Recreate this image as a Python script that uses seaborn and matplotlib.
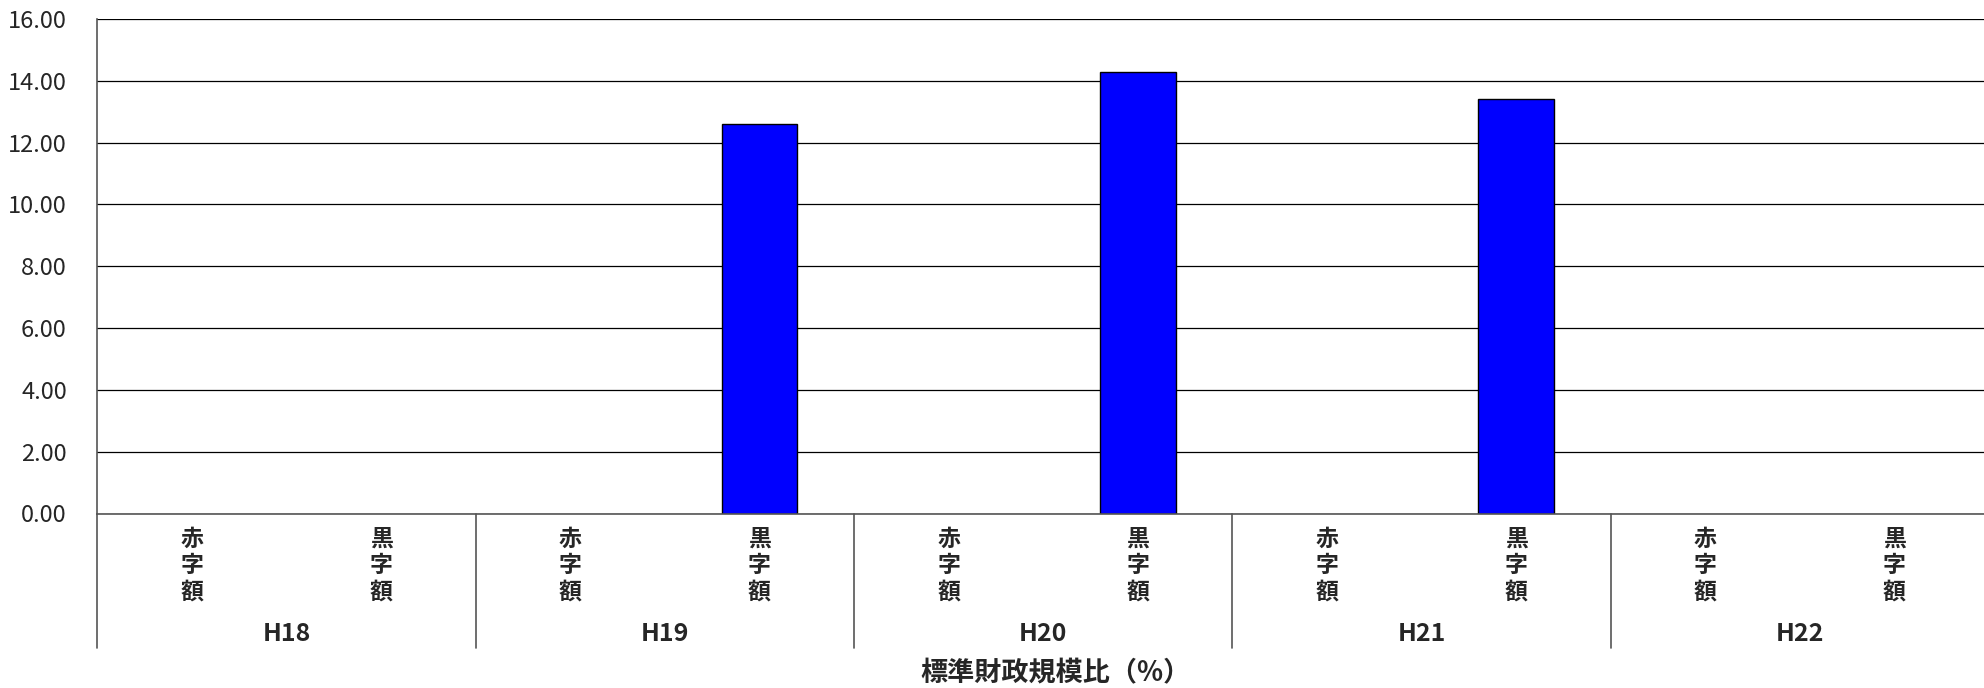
import numpy as np
import pandas as pd
import matplotlib
matplotlib.use("Agg")
import matplotlib.pyplot as plt
import matplotlib.transforms as mtransforms
import seaborn as sns

# Data
years = ["H18", "H19", "H20", "H21", "H22"]
kinds = ["赤字額", "黒字額"]
deficit = [0.0, 0.0, 0.0, 0.0, 0.0]
surplus = [0.0, 12.6, 14.3, 13.4, 0.0]
y_ticks = [0, 2, 4, 6, 8, 10, 12, 14, 16]
x_title = "標準財政規模比（%）"

rows = []
for i, yr in enumerate(years):
    rows.append({"年度": yr, "区分": kinds[0], "値": deficit[i], "key": f"{yr}-{kinds[0]}"})
    rows.append({"年度": yr, "区分": kinds[1], "値": surplus[i], "key": f"{yr}-{kinds[1]}"})
df = pd.DataFrame(rows)
order = list(df["key"])

sns.set_theme(style="white")
plt.rcParams["font.family"] = ["Noto Sans CJK JP", "DejaVu Sans"]

fig = plt.figure(figsize=(19.84, 6.88), dpi=100)
W, H = 1984, 688
left_px, right_px, top_px, zero_px = 97.4, 1989.0, 19.0, 513.5
ax = fig.add_axes([left_px / W, 1 - zero_px / H,
                   (right_px - left_px) / W, (zero_px - top_px) / H])

sns.barplot(data=df, x="key", y="値", order=order, color="#0000FF",
            edgecolor="black", linewidth=1.0, width=0.4, errorbar=None,
            saturation=1, ax=ax)
for p in ax.patches:
    if p.get_height() == 0:
        p.set_linewidth(0)

ax.set_xlim(-0.5, len(order) - 0.5)
ax.set_ylim(0, 16)
ax.set_yticks(y_ticks)
ax.set_yticklabels([f"{v:.2f}" for v in y_ticks], fontsize=17)
ax.yaxis.grid(True, color="black", linewidth=0.9)
ax.set_axisbelow(True)

for s in ["top", "right"]:
    ax.spines[s].set_visible(False)
ax.spines["left"].set_color("#555555")
ax.spines["bottom"].set_color("#555555")
ax.spines["left"].set_linewidth(1.2)
ax.spines["bottom"].set_linewidth(1.2)

ax.tick_params(axis="y", direction="in", length=5, width=1, color="#555555",
               pad=22, labelsize=17)
ax.tick_params(axis="x", length=0, pad=10)

ax.set_xticks(range(len(order)))
ax.set_xticklabels(["\n".join(list(k)) for k in df["区分"]],
                   fontsize=16.5, fontweight="bold", linespacing=1.2, va="top")
ax.set_xlabel("")
ax.set_ylabel("")

trans = mtransforms.blended_transform_factory(ax.transData, ax.transAxes)
axes_h = zero_px - top_px
sep_bottom = -(648 - zero_px) / axes_h
for g in range(len(years) + 1):
    xs = 2 * g - 0.5
    ax.plot([xs, xs], [0, sep_bottom], transform=trans, color="#555555",
            linewidth=1.2, clip_on=False)

for g, yr in enumerate(years):
    ax.text(2 * g + 0.5, -(634 - zero_px) / axes_h, yr, transform=trans,
            ha="center", va="center", fontsize=18, fontweight="bold")

ax.text(0.5067, -(673 - zero_px) / axes_h, x_title, transform=ax.transAxes,
        ha="center", va="center", fontsize=19.5, fontweight="bold")

fig.savefig("out.png", dpi=100)
